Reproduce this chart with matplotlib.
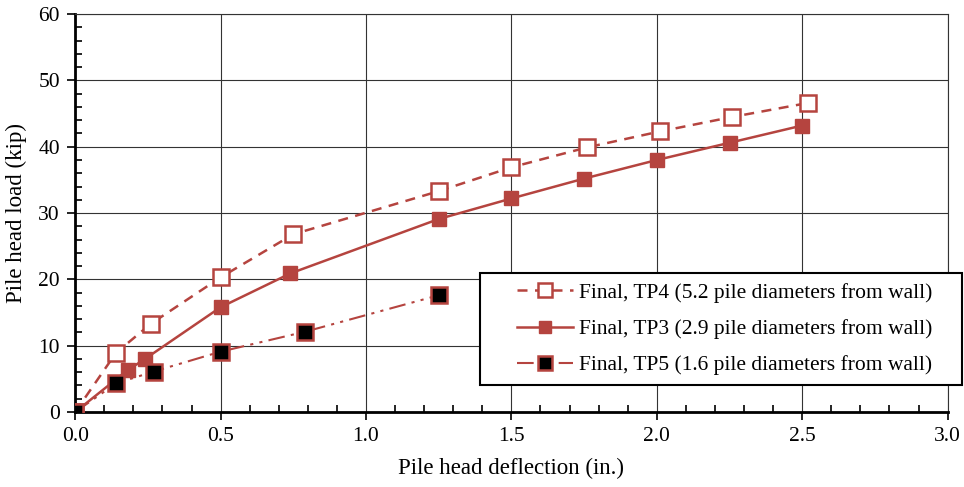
import matplotlib
matplotlib.use('Agg')
import matplotlib.pyplot as plt
from matplotlib.ticker import MultipleLocator
from matplotlib.patches import Rectangle

plt.rcParams['font.family'] = ['Liberation Serif', 'DejaVu Serif']

red = '#b5443f'

# TP4 - open squares, dashed
tp4_x = [0.0, 0.14, 0.26, 0.50, 0.75, 1.25, 1.50, 1.76, 2.01, 2.26, 2.52]
tp4_y = [0.0, 8.9, 13.3, 20.3, 26.8, 33.3, 36.9, 39.9, 42.3, 44.5, 46.6]

# TP3 - filled red squares, solid
tp3_x = [0.0, 0.18, 0.24, 0.50, 0.74, 1.25, 1.50, 1.75, 2.00, 2.25, 2.50]
tp3_y = [0.0, 6.3, 8.0, 15.8, 20.9, 29.1, 32.2, 35.2, 38.0, 40.6, 43.2]

# TP5 - black squares, dash-dot-dot
tp5_x = [0.0, 0.14, 0.27, 0.50, 0.79, 1.25]
tp5_y = [0.0, 4.3, 6.1, 9.1, 12.1, 17.6]

labels = ['Final, TP4 (5.2 pile diameters from wall)',
          'Final, TP3 (2.9 pile diameters from wall)',
          'Final, TP5 (1.6 pile diameters from wall)']

fig = plt.figure(figsize=(9.64, 4.87), dpi=100)
ax = fig.add_axes([0.078, 0.154, 0.905, 0.817])

ax.plot(tp4_x, tp4_y, color=red, lw=1.8, ls=(0, (4, 3)), marker='s', ms=12,
        mfc='white', mec=red, mew=1.8, label=labels[0], zorder=3)
ax.plot(tp3_x, tp3_y, color=red, lw=1.8, ls='-', marker='s', ms=10,
        mfc=red, mec=red, label=labels[1], zorder=3)
ax.plot(tp5_x, tp5_y, color=red, lw=1.5, ls=(0, (8, 3, 1.5, 3, 1.5, 3)), marker='s', ms=12,
        mfc='black', mec=red, mew=1.8, label=labels[2], zorder=4)

ax.set_xlim(0, 3.0)
ax.set_ylim(0, 60)
ax.xaxis.set_major_locator(MultipleLocator(0.5))
ax.xaxis.set_minor_locator(MultipleLocator(0.1))
ax.yaxis.set_major_locator(MultipleLocator(10))
ax.yaxis.set_minor_locator(MultipleLocator(2))
ax.xaxis.set_major_formatter(plt.FuncFormatter(lambda v, p: '%.1f' % v))
ax.tick_params(which='major', direction='out', length=6, width=1.2, labelsize=15.5, pad=5)
ax.tick_params(which='minor', direction='in', length=5, width=1.2)
ax.grid(which='major', color='#333333', lw=0.8)
for s in ['left', 'bottom']:
    ax.spines[s].set_linewidth(2)
for s in ['top', 'right']:
    ax.spines[s].set_linewidth(0.8)
    ax.spines[s].set_color('#333333')

ax.set_xlabel('Pile head deflection (in.)', fontsize=16.5, labelpad=8)
ax.set_ylabel('Pile head load (kip)', fontsize=16.5, labelpad=8)

# legend box (wider horizontal padding than matplotlib's uniform borderpad)
box = Rectangle((0.464, 0.068), 0.553, 0.281, transform=ax.transAxes,
                facecolor='white', edgecolor='black', lw=1.5, clip_on=False, zorder=5)
ax.add_patch(box)
leg = ax.legend(loc='center', bbox_to_anchor=(0.464 + 0.553 / 2 + 0.004, 0.068 + 0.281 / 2),
                fontsize=15.5, frameon=False, handlelength=2.6, handletextpad=0.3,
                borderpad=0.2, labelspacing=0.75, markerscale=0.8)
leg.set_zorder(6)

fig.savefig('out.png', dpi=100)
